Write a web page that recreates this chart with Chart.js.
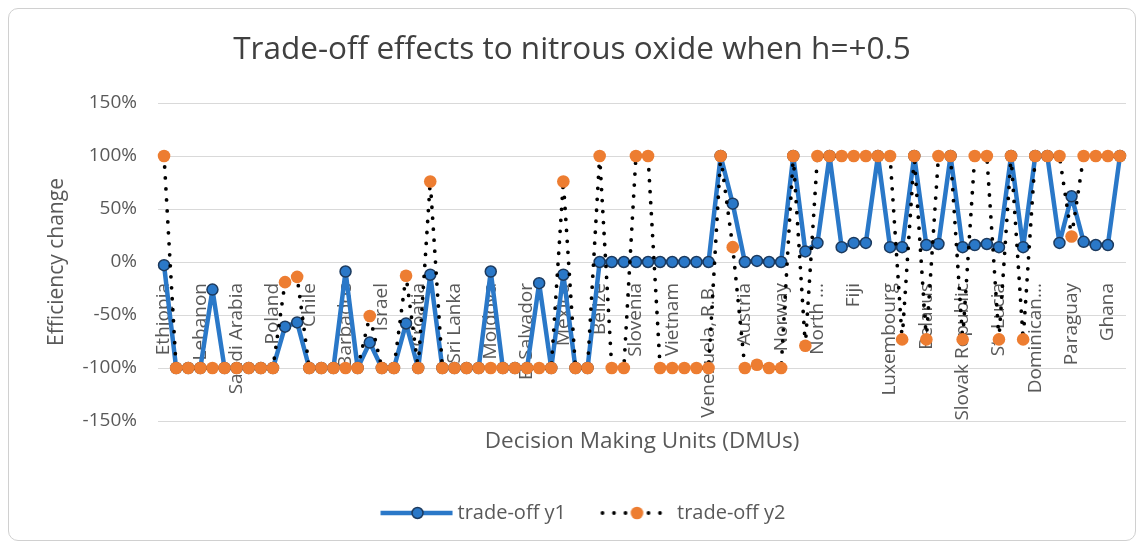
<!DOCTYPE html>
<html>
<head>
<meta charset="utf-8">
<script src="https://cdn.jsdelivr.net/npm/chart.js@4.4.1/dist/chart.umd.min.js"></script>
<style>
  html, body { margin: 0; padding: 0; background: #fff; }
  #wrap { position: relative; width: 1144px; height: 547px; }
  #frame { position: absolute; left: 8px; top: 8px; width: 1126px; height: 531px;
           border: 1px solid #d0d0d0; border-radius: 10px; }
  #chart { position: absolute; left: 0; top: 0; }
</style>
</head>
<body>
<div id="wrap">
  <div id="frame"></div>
  <canvas id="chart" width="1144" height="547"></canvas>
</div>
<script>
// only every 3rd DMU name is printed on the axis in the original
var shownNames = ["Ethiopia", "Lebanon", "Saudi Arabia", "Poland", "Chile", "Barbados",
  "Israel", "Croatia", "Sri Lanka", "Moldova", "El Salvador", "Mexico", "Belize",
  "Slovenia", "Vietnam", "Venezuela, R.B.", "Austria", "Norway", "North ...", "Fiji",
  "Luxembourg", "Belarus", "Slovak Republic", "St. Lucia", "Dominican...", "Paraguay", "Ghana"];
var dmuCount = 80;
var labelStep = 3;

// efficiency change, %
var tradeoffY1 = [
  -3, -100, -100, -100, -26, -100, -100, -100, -100, -100,
  -61, -57, -100, -100, -100, -9, -100, -76, -100, -100,
  -58, -100, -12, -100, -100, -100, -100, -9, -100, -100,
  -100, -20, -100, -12, -100, -100, 0, 0, 0, 0,
  0, 0, 0, 0, 0, 0, 100, 55, 0, 1,
  0, 0, 100, 10, 18, 100, 14, 18, 18, 100,
  14, 14, 100, 16, 17, 100, 14, 16, 17, 14,
  100, 14, 100, 100, 18, 62, 19, 16, 16, 100
];
var tradeoffY2 = [
  100, -100, -100, -100, -100, -100, -100, -100, -100, -100,
  -19, -14, -100, -100, -100, -100, -100, -51, -100, -100,
  -13, -100, 76, -100, -100, -100, -100, -100, -100, -100,
  -100, -100, -100, 76, -100, -100, 100, -100, -100, 100,
  100, -100, -100, -100, -100, -100, 100, 14, -100, -97,
  -100, -100, 100, -79, 100, 100, 100, 100, 100, 100,
  100, -73, 100, -73, 100, 100, -73, 100, 100, -73,
  100, -73, 100, 100, 100, 24, 100, 100, 100, 100
];
var yMin = -150, yMax = 150, yStep = 50;

var BLUE = "#2A78C8";
var ORANGE = "#ED7D31";
var GREY = "#595959";
var FONT = "'Open Sans', sans-serif";

var dmuLabels = [];
for (var i = 0; i < dmuCount; i++) {
  dmuLabels.push(i % labelStep === 0 ? shownNames[i / labelStep] : "");
}

// little pictures for the legend: line + marker, like Excel does
function legendPic(kind) {
  var c = document.createElement("canvas");
  c.width = 100; c.height = 20;
  var g = c.getContext("2d");
  if (kind === 1) {
    g.strokeStyle = BLUE; g.lineWidth = 4.5;
    g.beginPath(); g.moveTo(27.5, 10); g.lineTo(99.5, 10); g.stroke();
    g.beginPath(); g.arc(64.5, 10, 5.5, 0, Math.PI * 2);
    g.fillStyle = BLUE; g.fill();
    g.strokeStyle = "#1c3a5e"; g.lineWidth = 1.5; g.stroke();
  } else {
    g.strokeStyle = "#000"; g.lineWidth = 3.8; g.lineCap = "round";
    g.setLineDash([0, 11.5]);
    g.beginPath(); g.moveTo(30, 10); g.lineTo(92, 10); g.stroke();
    g.setLineDash([]);
    g.beginPath(); g.arc(64.5, 10, 6.3, 0, Math.PI * 2);
    g.fillStyle = ORANGE; g.fill();
  }
  return c;
}
var legendPics = [legendPic(1), legendPic(2)];

new Chart(document.getElementById("chart"), {
  type: "line",
  data: {
    labels: dmuLabels,
    datasets: [{
      label: "trade-off y1",
      data: tradeoffY1,
      xAxisID: "x",
      order: 1,
      borderColor: BLUE,
      borderWidth: 4.5,
      borderJoinStyle: "round",
      pointRadius: 5.5,
      pointBackgroundColor: BLUE,
      pointBorderColor: "#1c3a5e",
      pointBorderWidth: 1.5,
      tension: 0
    }, {
      label: "trade-off y2",
      data: tradeoffY2,
      xAxisID: "x",
      order: 0,
      borderColor: "#000",
      borderWidth: 3.8,
      borderDash: [0, 11],
      borderCapStyle: "round",
      borderJoinStyle: "round",
      pointRadius: 6.3,
      pointBackgroundColor: ORANGE,
      pointBorderWidth: 0,
      tension: 0
    }]
  },
  options: {
    responsive: false,
    animation: false,
    events: [],
    devicePixelRatio: 1,
    layout: { padding: { top: 8, left: 18, right: 18, bottom: 14 } },
    scales: {
      x: {
        type: "category",
        position: { y: 0 },
        offset: true,
        grid: { display: false, drawTicks: false },
        border: { display: false },
        ticks: {
          autoSkip: false, minRotation: 90, maxRotation: 90, padding: 21,
          color: GREY, font: { family: FONT, size: 19 }
        },
        // labels hang inside the plot, they should not squeeze it
        afterFit: function (s) { s.paddingLeft = 0; s.paddingRight = 0; }
      },
      x2: {
        type: "category",
        axis: "x",
        position: "bottom",
        display: true,
        offset: true,
        grid: { display: false, drawTicks: false },
        border: { display: false },
        ticks: { display: false },
        title: {
          display: true, text: "Decision Making Units (DMUs)", color: GREY,
          font: { family: FONT, size: 22.5 }, padding: { top: 7.5, bottom: 35.5 }
        }
      },
      y: {
        min: yMin, max: yMax,
        grid: { color: "#d9d9d9", drawTicks: false },
        border: { display: false },
        ticks: {
          stepSize: yStep, padding: 21, color: GREY,
          font: { family: FONT, size: 19 },
          callback: function (v) { return v + "%"; }
        },
        title: {
          display: true, text: "Efficiency change", color: GREY,
          font: { family: FONT, size: 21 }, padding: { top: 26.4, bottom: 0 }
        },
        afterFit: function (s) { s.width = 140; }
      }
    },
    plugins: {
      title: {
        display: true,
        text: "Trade-off effects to nitrous oxide when h=+0.5",
        color: "#404040",
        font: { family: FONT, size: 31.5, weight: "normal" },
        padding: { top: 23, bottom: 34.2 }
      },
      legend: {
        position: "bottom",
        labels: {
          usePointStyle: true,
          pointStyleWidth: 89,
          padding: 12,
          color: GREY,
          font: { family: FONT, size: 20 },
          sort: function (a, b) { return a.datasetIndex - b.datasetIndex; },
          generateLabels: function (chart) {
            var items = Chart.defaults.plugins.legend.labels.generateLabels(chart);
            items.forEach(function (it) { it.pointStyle = legendPics[it.datasetIndex]; });
            return items;
          }
        }
      },
      tooltip: { enabled: false }
    }
  }
});
</script>
</body>
</html>
